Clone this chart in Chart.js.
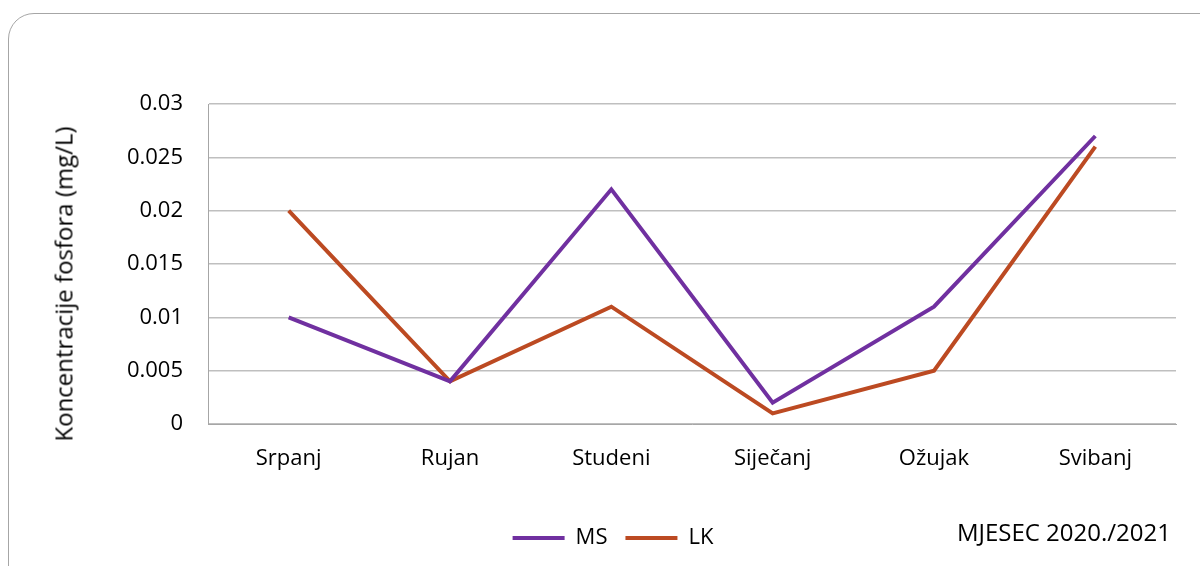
<!DOCTYPE html>
<html>
<head>
<meta charset="utf-8">
<script src="https://cdn.jsdelivr.net/npm/chart.js"></script>
<style>
    html, body { margin: 0; padding: 0; background: #fff; overflow: hidden; }
    body { width: 1200px; height: 566px; position: relative; font-family: "Open Sans", sans-serif; }
    #frame {
        position: absolute; left: 8px; top: 13px; width: 1260px; height: 620px;
        border: 1px solid #a6a6a6; border-radius: 26px;
    }
    #chart { position: absolute; left: 0; top: 0; }
    .title { position: absolute; font-size: 24px; color: #000; white-space: nowrap; }
    #yTitle { left: 63px; top: 284px; transform: translate(-50%, -50%) rotate(-90deg); }
    #xTitle { right: 29px; top: 531px; transform: translateY(-50%); }
</style>
</head>
<body>
<div id="frame"></div>
<canvas id="chart" width="1200" height="566"></canvas>
<div class="title" id="yTitle">Koncentracije fosfora (mg/L)</div>
<div class="title" id="xTitle">MJESEC 2020./2021</div>
<script>
// data
var months = ['Srpanj', 'Rujan', 'Studeni', 'Siječanj', 'Ožujak', 'Svibanj'];
var msValues = [0.010, 0.004, 0.022, 0.002, 0.011, 0.027];
var lkValues = [0.020, 0.004, 0.011, 0.001, 0.005, 0.026];
var yTicks = [0, 0.005, 0.01, 0.015, 0.02, 0.025, 0.03];

document.addEventListener('DOMContentLoaded', function() {
    var ctx = document.getElementById('chart').getContext('2d');
    var font = { family: '"Open Sans", sans-serif', size: 22 };

    new Chart(ctx, {
        type: 'line',
        data: {
            labels: months,
            datasets: [{
                label: 'MS',
                data: msValues,
                borderColor: '#7030a0',
                backgroundColor: '#7030a0',
                borderWidth: 4,
                pointRadius: 0,
                tension: 0
            }, {
                label: 'LK',
                data: lkValues,
                borderColor: '#bc4a22',
                backgroundColor: '#bc4a22',
                borderWidth: 4,
                pointRadius: 0,
                tension: 0
            }]
        },
        options: {
            responsive: false,
            animation: false,
            layout: { padding: { left: 50, right: 24, top: 104, bottom: 7 } },
            plugins: {
                tooltip: { enabled: false },
                legend: {
                    position: 'bottom',
                    labels: {
                        usePointStyle: true,
                        pointStyle: 'line',
                        pointStyleWidth: 52,
                        padding: 18,
                        color: '#000',
                        font: font
                    }
                }
            },
            scales: {
                x: {
                    offset: true,
                    grid: { display: false, drawTicks: false },
                    border: { display: true, color: '#a6a6a6', width: 1 },
                    ticks: { color: '#000', font: font, padding: 22, maxRotation: 0 },
                    afterFit: function(scale) { scale.height = 85; }
                },
                y: {
                    min: 0,
                    max: 0.03,
                    afterBuildTicks: function(scale) {
                        scale.ticks = yTicks.map(function(v) { return { value: v }; });
                    },
                    grid: { color: '#bfbfbf', lineWidth: 1.5, drawTicks: false },
                    border: { display: true, color: '#a6a6a6', width: 1 },
                    ticks: {
                        color: '#000',
                        font: font,
                        padding: 25,
                        callback: function(v) { return String(+v.toFixed(3)); }
                    },
                    afterFit: function(scale) { scale.width = 158; }
                }
            }
        }
    });
});
</script>
</body>
</html>
